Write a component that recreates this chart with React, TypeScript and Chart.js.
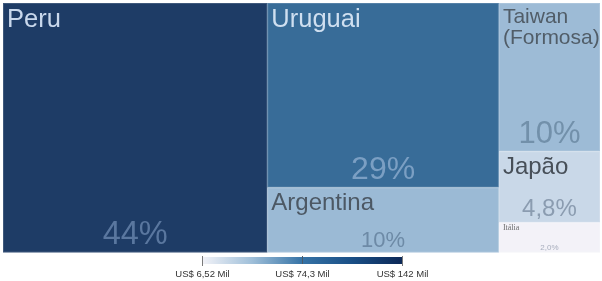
import React, { useEffect, useRef } from "react";
import { Chart, registerables } from "chart.js";

Chart.register(...registerables);

// ---- data (US$ Mil) ----
const countries = ["Peru", "Uruguai", "Argentina", "Taiwan (Formosa)", "Japão", "Itália"];
const values = [142, 92, 32.4, 32.3, 15.5, 6.52];
// treemap grouping: columns of category indexes
const columns = [[0], [1, 2], [3, 4, 5]];
const legendTicks = [6.52, 74.3, 142];

// ---- styles ----
const fillColors = ["#1e3c66", "#386c98", "#9bbad5", "#9dbbd6", "#c9d8e8", "#f3f2f8"];
const labelColors = ["#c9d8ec", "#cfdff0", "#4c5864", "#515d68", "#474f58", "#6b6b6b"];
const pctColors = ["#5a779f", "#7b9fc3", "#6d8aa6", "#7290aa", "#8b9cb0", "#a8aebd"];
const labelSizes = [25.5, 25.5, 24, 21, 24, 8];
const pctSizes = [32.5, 32, 22, 31, 24, 8];
const gradientStops = ["#f3f3f8", "#9fbfd9", "#3673a6", "#1a4f86", "#0c2857"];
const FONT = '"Liberation Sans", Arial, sans-serif';

const total = values.reduce((a, b) => a + b, 0);

function buildRects() {
  const rects: any[] = [];
  let x = 0;
  columns.forEach((col) => {
    const colSum = col.reduce((s, i) => s + values[i], 0);
    let y = 0;
    col.forEach((i) => {
      const h = values[i] / colSum;
      rects.push({ i, x0: x, x1: x + colSum, y0: y, y1: y + h, x: x + colSum / 2, y: y + h / 2 });
      y += h;
    });
    x += colSum;
  });
  return rects;
}

function fmtPct(v: number) {
  return (v / total * 100).toPrecision(2).replace(".", ",") + "%";
}
function fmtMoney(v: number) {
  return "US$ " + v.toPrecision(3).replace(".", ",") + " Mil";
}

function wrap(ctx: CanvasRenderingContext2D, text: string, maxW: number) {
  const words = text.split(" ");
  const lines: string[] = [];
  let cur = "";
  words.forEach((w) => {
    const t = cur ? cur + " " + w : w;
    if (ctx.measureText(t).width > maxW && cur) {
      lines.push(cur);
      cur = w;
    } else cur = t;
  });
  if (cur) lines.push(cur);
  return lines;
}

const treemapPlugin = {
  id: "treemapDraw",
  afterDatasetsDraw(chart: any) {
    const ctx: CanvasRenderingContext2D = chart.ctx;
    const xs = chart.scales.x;
    const ys = chart.scales.y;
    const data = chart.data.datasets[0].data as any[];
    ctx.save();
    data.forEach((r) => {
      const left = xs.getPixelForValue(r.x0);
      const right = xs.getPixelForValue(r.x1);
      const top = ys.getPixelForValue(r.y0);
      const bottom = ys.getPixelForValue(r.y1);
      const i = r.i;
      ctx.fillStyle = fillColors[i];
      ctx.fillRect(left, top, right - left, bottom - top);
      ctx.strokeStyle = "rgba(255,255,255,0.15)";
      ctx.lineWidth = 1;
      ctx.strokeRect(left + 0.5, top + 0.5, right - left - 1, bottom - top - 1);

      // label
      const ls = labelSizes[i];
      ctx.font = (i === 5 ? `${ls}px "Liberation Serif", serif` : `${ls}px ${FONT}`);
      ctx.fillStyle = labelColors[i];
      ctx.textAlign = "left";
      ctx.textBaseline = "alphabetic";
      const lines = wrap(ctx, countries[i], right - left - 6);
      lines.forEach((ln, k) => {
        ctx.fillText(ln, left + 4, top + ls * 0.95 + k * ls * 0.98);
      });

      // percentage
      const ps = pctSizes[i];
      ctx.font = `${ps}px ${FONT}`;
      ctx.fillStyle = pctColors[i];
      ctx.textAlign = "center";
      ctx.fillText(fmtPct(values[i]), (left + right) / 2, bottom - ps * 0.27);
    });

    // colour legend
    const lx0 = 202, lx1 = 402, ly0 = 257, ly1 = 264;
    const grad = ctx.createLinearGradient(lx0, 0, lx1, 0);
    gradientStops.forEach((c, k) => grad.addColorStop(k / (gradientStops.length - 1), c));
    ctx.fillStyle = grad;
    ctx.fillRect(lx0, ly0, lx1 - lx0, ly1 - ly0);
    const minV = legendTicks[0];
    const maxV = legendTicks[legendTicks.length - 1];
    ctx.font = `9.5px ${FONT}`;
    ctx.textAlign = "center";
    legendTicks.forEach((v, k) => {
      const px = Math.round(lx0 + (v - minV) / (maxV - minV) * (lx1 - lx0)) + 0.5;
      ctx.strokeStyle = k === 1 ? "#4a5a6a" : "#7a7a7a";
      ctx.lineWidth = 1;
      ctx.beginPath();
      ctx.moveTo(px, ly0 - 1);
      ctx.lineTo(px, k === 1 ? ly1 : ly1 + 2);
      ctx.stroke();
      ctx.fillStyle = "#333";
      ctx.fillText(fmtMoney(v), px, 277);
    });
    ctx.restore();
  },
};

export default function App() {
  const ref = useRef<HTMLCanvasElement | null>(null);
  useEffect(() => {
    if (!ref.current) return;
    const chart = new Chart(ref.current, {
      type: "scatter",
      data: {
        datasets: [
          {
            label: "Exportações",
            data: buildRects() as any,
            pointRadius: 0,
            pointHoverRadius: 0,
          },
        ],
      },
      options: {
        responsive: false,
        animation: false,
        events: [],
        layout: { padding: { left: 3, right: 2, top: 3, bottom: 28.5 } },
        plugins: { legend: { display: false }, tooltip: { enabled: false } },
        scales: {
          x: { type: "linear", display: false, min: 0, max: total },
          y: { type: "linear", display: false, min: 0, max: 1, reverse: true },
        },
      },
      plugins: [treemapPlugin],
    });
    return () => chart.destroy();
  }, []);
  return (
    <div style={{ position: "fixed", left: 0, top: 0, width: 602, height: 281, background: "#fff" }}>
      <canvas ref={ref} width={602} height={281} style={{ display: "block" }} />
    </div>
  );
}
